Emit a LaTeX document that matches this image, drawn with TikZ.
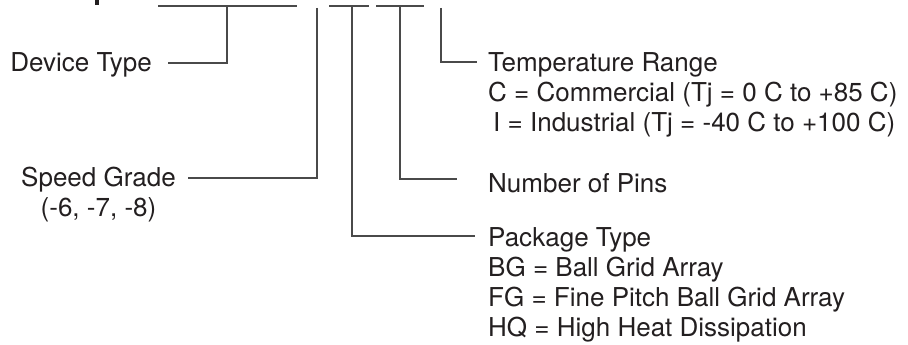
\documentclass[tikz,border=0pt]{standalone}
\usepackage{fontspec}
\setmainfont{TeX Gyre Heros}
\definecolor{ink}{HTML}{231F20}
\definecolor{wire}{HTML}{4A4A4A}
\begin{document}
\begin{tikzpicture}[x=1pt,y=-1pt,
  lbl/.style={inner sep=0pt,font=\fontsize{26}{30}\selectfont,text=ink},
  wirestyle/.style={draw=wire,line width=1.3pt},
  barstyle/.style={draw=wire,line width=1.3pt}]
\useasboundingbox (0,0) rectangle (908,345);
% fragment of the cut-off title letter
\fill[ink] (95,0) rectangle (99,5);
% underline bars of the part number
\coordinate (b1L) at (158,6); \coordinate (b1R) at (297,6);
\coordinate (b2L) at (329,6); \coordinate (b2R) at (369,6);
\coordinate (b3L) at (376,6); \coordinate (b3R) at (424,6);
\draw[barstyle] (b1L) -- (b1R);
\draw[barstyle] (b2L) -- (b2R);
\draw[barstyle] (b3L) -- (b3R);
% connector start points
\coordinate (devtop) at (227,6);
\coordinate (spdtop) at (317,8);
\coordinate (pkgtop) at (352,6);
\coordinate (pintop) at (400,6);
\coordinate (tmptop) at (441,8);
% connector end points
\coordinate (devend) at (168,63);
\coordinate (spdend) at (188,178);
\coordinate (pkgend) at (475,236);
\coordinate (pinend) at (457,179);
\coordinate (tmpend) at (477,62);
% labels
\node[lbl,anchor=base east] (dev) at (152,71) {Device Type};
\node[lbl,anchor=base] (spd) at (98.5,186) {Speed Grade};
\node[lbl,anchor=base] (spd2) at (98.5,216) {(-6, -7, -8)};
\node[lbl,anchor=base west] (tmp) at (488,71) {Temperature Range};
\node[lbl,anchor=base west] (tmp2) at (488,101) {C = Commercial (Tj = 0 C to +85 C)};
\node[lbl,anchor=base west] (tmp3) at (493,131) {I = Industrial (Tj = -40 C to +100 C)};
\node[lbl,anchor=base west] (pin) at (488,192) {Number of Pins};
\node[lbl,anchor=base west] (pkg) at (488,246) {Package Type};
\node[lbl,anchor=base west] (pkg2) at (488,276) {BG = Ball Grid Array};
\node[lbl,anchor=base west] (pkg3) at (488,306) {FG = Fine Pitch Ball Grid Array};
\node[lbl,anchor=base west] (pkg4) at (488,336) {HQ = High Heat Dissipation};
% connectors
\draw[wirestyle] (devtop) |- (devend);
\draw[wirestyle] (spdtop) |- (spdend);
\draw[wirestyle] (pkgtop) |- (pkgend);
\draw[wirestyle] (pintop) |- (pinend);
\draw[wirestyle] (tmptop) |- (tmpend);
\end{tikzpicture}
\end{document}
